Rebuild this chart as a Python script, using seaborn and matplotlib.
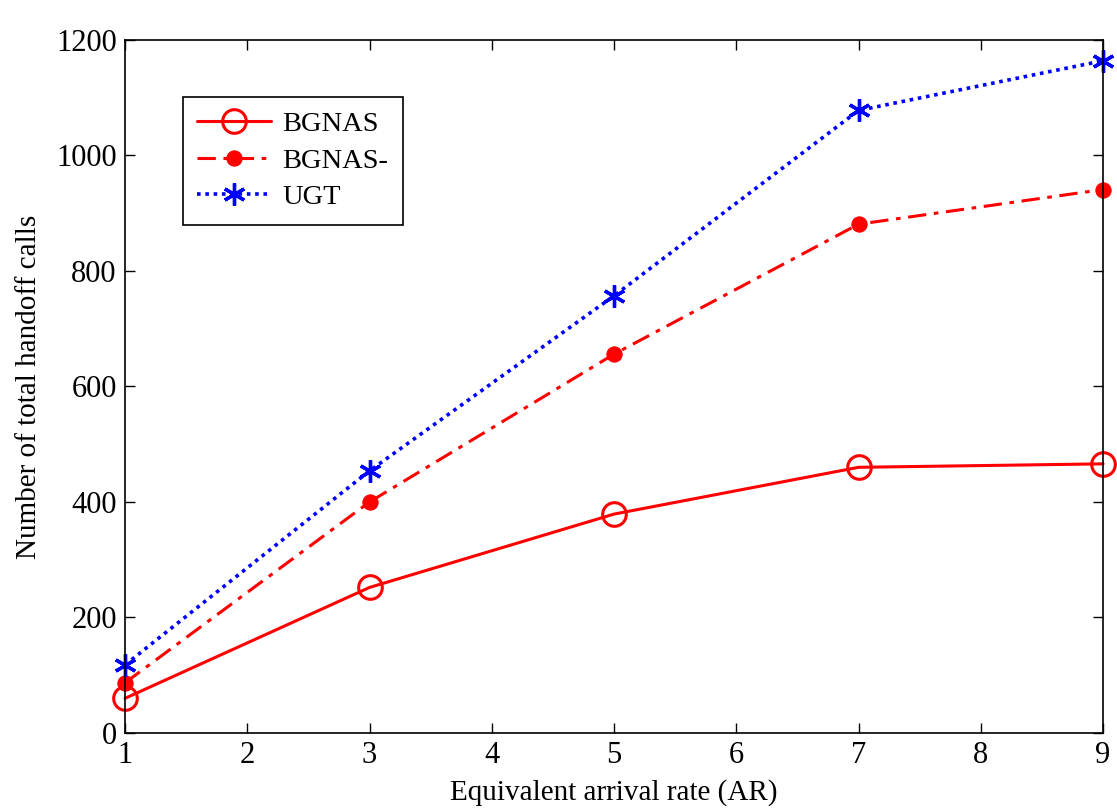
import matplotlib
matplotlib.use("Agg")
import matplotlib.pyplot as plt
import seaborn as sns

arrival_rate = [1, 3, 5, 7, 9]
bgnas = [60, 252, 379, 460, 466]
bgnas_minus = [87, 400, 656, 881, 941]
ugt = [118, 454, 757, 1078, 1164]

sns.set_style("ticks")
plt.rcParams['font.family'] = ['Liberation Serif', 'DejaVu Serif']
plt.rcParams['text.color'] = 'black'
plt.rcParams['axes.labelcolor'] = 'black'
plt.rcParams['xtick.color'] = 'black'
plt.rcParams['ytick.color'] = 'black'
plt.rcParams['axes.edgecolor'] = 'black'

fig = plt.figure(figsize=(11.17, 8.09), dpi=100)
ax = fig.add_axes([0.112, 0.094, 0.8755, 0.8566])

sns.lineplot(x=arrival_rate, y=bgnas, ax=ax, color="#ff0000", linestyle="-", linewidth=2.2,
             marker="o", markersize=17, markerfacecolor="none", markeredgecolor="#ff0000",
             markeredgewidth=2.2, label="BGNAS", clip_on=False)
sns.lineplot(x=arrival_rate, y=bgnas_minus, ax=ax, color="#ff0000", linestyle=(0, (6, 2.5, 1.5, 2.5)),
             linewidth=2.2, marker="o", markersize=11, markerfacecolor="#ff0000",
             markeredgecolor="#ff0000", label="BGNAS-", clip_on=False)
sns.lineplot(x=arrival_rate, y=ugt, ax=ax, color="#0000ff", linestyle=(0, (1, 1.3)), linewidth=2.6,
             marker=(6, 2, 0), markersize=16, markeredgewidth=2.4, markeredgecolor="#0000ff",
             label="UGT", clip_on=False)

ax.set_xlim(1, 9)
ax.set_ylim(0, 1200)
ax.set_xticks(range(1, 10))
ax.set_yticks(range(0, 1201, 200))
ax.tick_params(direction="in", length=7, width=1, labelsize=22, top=True, right=True, pad=6)
for s in ax.spines.values():
    s.set_linewidth(1.2)
    s.set_visible(True)
ax.set_xlabel("Equivalent arrival rate (AR)", fontsize=21, labelpad=6)
ax.set_ylabel("Number of total handoff calls", fontsize=21, labelpad=10)

leg = ax.legend(loc="upper left", bbox_to_anchor=(0.059, 0.918), borderaxespad=0, fontsize=20.5,
                frameon=True, fancybox=False, edgecolor="black", framealpha=1, handlelength=2.6,
                borderpad=0.5, labelspacing=0.38, handletextpad=0.4)
leg.get_frame().set_linewidth(1.2)

fig.savefig("out.png", dpi=100)
